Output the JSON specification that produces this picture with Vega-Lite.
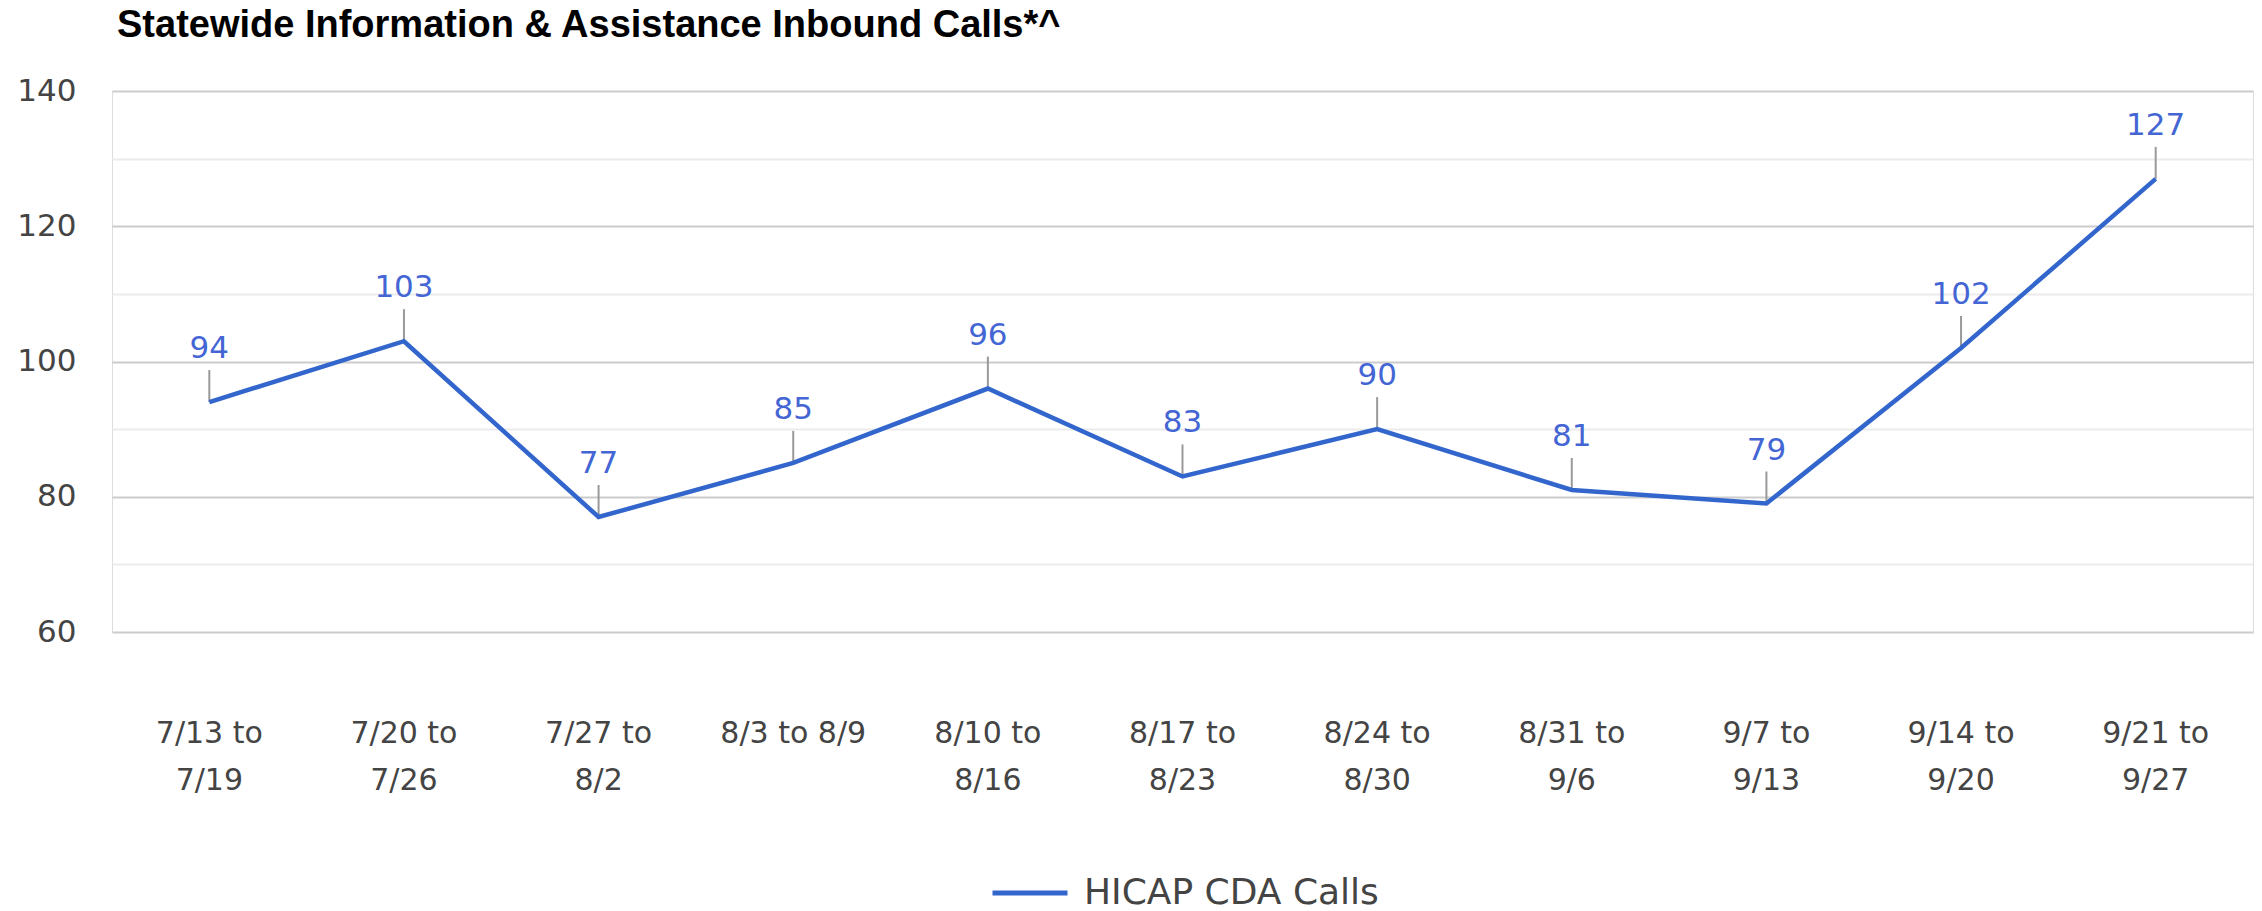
{
  "$schema": "https://vega.github.io/schema/vega-lite/v6.json",
  "width": 2141,
  "height": 541,
  "autosize": {"type": "none"},
  "padding": {"left": 112, "top": 91, "right": 9, "bottom": 279},
  "background": "white",
  "title": {
    "text": "Statewide Information & Assistance Inbound Calls*^",
    "anchor": "start",
    "frame": "group",
    "font": "Liberation Sans",
    "fontWeight": "bold",
    "fontSize": 38,
    "color": "#000000",
    "offset": 30,
    "dx": 5
  },
  "data": {
    "values": [
      {"week": "7/13 to 7/19", "calls": 94},
      {"week": "7/20 to 7/26", "calls": 103},
      {"week": "7/27 to 8/2", "calls": 77},
      {"week": "8/3 to 8/9", "calls": 85},
      {"week": "8/10 to 8/16", "calls": 96},
      {"week": "8/17 to 8/23", "calls": 83},
      {"week": "8/24 to 8/30", "calls": 90},
      {"week": "8/31 to 9/6", "calls": 81},
      {"week": "9/7 to 9/13", "calls": 79},
      {"week": "9/14 to 9/20", "calls": 102},
      {"week": "9/21 to 9/27", "calls": 127}
    ]
  },
  "encoding": {
    "x": {
      "field": "week",
      "type": "ordinal",
      "sort": null,
      "axis": {
        "title": null,
        "domain": false,
        "ticks": false,
        "grid": false,
        "labelAngle": 0,
        "labelFont": "DejaVu Sans",
        "labelFontSize": 30,
        "labelColor": "#444444",
        "labelPadding": 86,
        "labelBaseline": "top",
        "labelLineHeight": 47,
        "labelExpr": "length(datum.label) > 10 ? [substring(datum.label, 0, indexof(datum.label, ' to ') + 3), substring(datum.label, indexof(datum.label, ' to ') + 4)] : datum.label"
      }
    },
    "y": {
      "field": "calls",
      "type": "quantitative",
      "scale": {"domain": [60, 140], "nice": false, "zero": false},
      "axis": {
        "title": null,
        "domain": false,
        "ticks": false,
        "values": [60, 70, 80, 90, 100, 110, 120, 130, 140],
        "labelExpr": "datum.value % 20 === 0 ? datum.label : ''",
        "gridColor": {"condition": {"test": "datum.value % 20 === 0", "value": "#cccccc"}, "value": "#ebebeb"},
        "gridWidth": 2,
        "labelFont": "DejaVu Sans",
        "labelFontSize": 31,
        "labelColor": "#444444",
        "labelPadding": 36
      }
    }
  },
  "layer": [
    {
      "mark": {"type": "rule", "color": "#999999", "strokeWidth": 2, "y2Offset": -32},
      "encoding": {"y2": {"field": "calls"}}
    },
    {
      "mark": {"type": "line", "strokeWidth": 4.5},
      "encoding": {
        "color": {
          "datum": "HICAP CDA Calls",
          "scale": {"range": ["#3366cc"]},
          "legend": {
            "title": null,
            "orient": "none",
            "legendX": 878,
            "legendY": 762,
            "symbolType": "stroke",
            "symbolSize": 5625,
            "symbolStrokeWidth": 5,
            "labelFont": "DejaVu Sans",
            "labelFontSize": 36,
            "labelLimit": 0,
            "labelColor": "#444444",
            "labelOffset": 14
          }
        }
      }
    },
    {
      "mark": {"type": "text", "dy": -53, "font": "DejaVu Sans", "fontSize": 31, "color": "#4466d4"},
      "encoding": {"text": {"field": "calls", "type": "quantitative"}}
    }
  ]
}
